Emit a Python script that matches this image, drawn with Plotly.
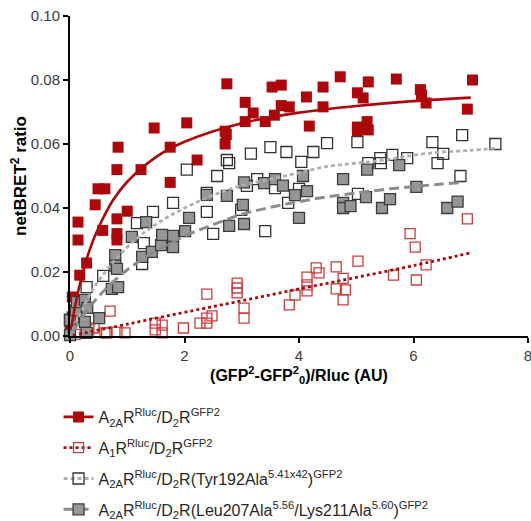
import plotly.graph_objects as go

# ---- data ----
# A2AR-Rluc / D2R-GFP2 (filled dark red squares)
a2a_x = [0.00, 0.04, 0.17, 0.29, 0.14, 0.14, 0.44, 0.49, 0.61, 0.57, 0.82, 0.82, 0.82, 1.00,
         0.84, 0.82, 1.24, 1.47, 1.75, 1.75, 2.04, 2.22, 2.74, 2.71, 2.73, 2.71, 3.06, 3.06,
         3.20, 3.53, 3.69, 3.41, 3.57, 3.69, 3.83, 4.13, 4.42, 4.72, 4.42, 4.18, 5.02, 5.12,
         5.21, 5.02, 5.02, 5.19, 5.21, 5.70, 6.12, 6.14, 6.22, 7.03, 6.94]
a2a_y = [0.0025, 0.0122, 0.019, 0.0228, 0.0356, 0.030, 0.041, 0.046, 0.046, 0.033, 0.0366, 0.032, 0.030, 0.039,
         0.059, 0.052, 0.052, 0.065, 0.059, 0.048, 0.0666, 0.055, 0.0788, 0.064, 0.063, 0.060, 0.073, 0.067,
         0.0697, 0.0778, 0.0784, 0.067, 0.069, 0.072, 0.0716, 0.0747, 0.0778, 0.081, 0.0716, 0.0656, 0.076, 0.0744,
         0.0794, 0.0653, 0.064, 0.067, 0.0644, 0.0803, 0.077, 0.0753, 0.0728, 0.080, 0.0709]
a2a_fit_x = [0.02, 0.1, 0.2, 0.35, 0.5, 0.75, 1.0, 1.5, 2.0, 3.0, 4.0, 5.0, 6.0, 7.0]
a2a_fit_y = [0.0023, 0.0103, 0.0182, 0.0273, 0.0339, 0.0424, 0.0482, 0.0559, 0.0607, 0.0665, 0.0698, 0.0719, 0.0734, 0.0745]

# A1R-Rluc / D2R-GFP2 (open red squares)
a1_x = [0.09, 0.30, 0.33, 0.42, 0.61, 0.64, 0.70, 0.82, 0.96, 1.49, 1.49, 1.61, 1.61, 1.98, 2.27, 2.39,
        2.39, 2.48, 2.39, 2.92, 2.92, 2.92, 3.04, 3.04, 3.83, 3.93, 4.14, 4.14, 4.14, 4.30, 4.35, 4.65,
        4.65, 4.77, 4.77, 4.81, 5.03, 5.65, 5.94, 6.03, 6.05, 6.22, 6.94]
a1_y = [0.0005, 0.001, 0.0019, 0.0025, 0.001, 0.001, 0.0078, 0.0012, 0.001, 0.004, 0.0019, 0.0034, 0.001, 0.0025, 0.004, 0.004,
        0.0056, 0.0063, 0.0131, 0.0165, 0.015, 0.0135, 0.0087, 0.0056, 0.0097, 0.0128, 0.0141, 0.016, 0.0184, 0.0213, 0.0197, 0.0147,
        0.0216, 0.018, 0.0113, 0.0144, 0.0234, 0.019, 0.032, 0.0278, 0.0175, 0.0222, 0.0366]
a1_fit_x = [0.05, 1.0, 2.0, 3.0, 4.0, 5.0, 6.0, 7.0]
a1_fit_y = [0.0002, 0.0037, 0.0074, 0.0110, 0.0147, 0.0183, 0.0220, 0.0260]

# A2AR-Rluc / D2R(Tyr192Ala)-GFP2 (open black squares)
tyr_x = [0.00, 0.05, 0.29, 0.22, 0.58, 1.26, 1.29, 1.17, 1.45, 1.80, 2.04, 2.39, 2.39, 2.50, 2.57, 2.74,
         2.78, 2.99, 3.09, 3.16, 3.27, 3.41, 3.50, 3.58, 3.78, 3.81, 4.00, 4.04, 4.25, 4.49, 5.02, 5.03,
         5.21, 5.42, 5.43, 5.63, 5.89, 6.33, 6.42, 6.52, 6.82, 6.85, 7.43]
tyr_y = [0.005, 0.0058, 0.0153, 0.011, 0.0188, 0.0225, 0.029, 0.0353, 0.0388, 0.0416, 0.052, 0.0447, 0.0388, 0.0319, 0.050, 0.055,
         0.054, 0.0394, 0.0469, 0.057, 0.049, 0.0328, 0.059, 0.0462, 0.0575, 0.0416, 0.046, 0.0544, 0.0575, 0.0603, 0.0606, 0.0444,
         0.054, 0.0556, 0.054, 0.0566, 0.0556, 0.0606, 0.054, 0.0569, 0.050, 0.0628, 0.060]
tyr_fit_x = [0.05, 0.4, 0.8, 1.2, 1.6, 2.0, 2.5, 3.0, 3.5, 4.0, 4.5, 5.0, 5.5, 6.0, 6.5, 7.0, 7.43]
tyr_fit_y = [0.002, 0.0145, 0.024, 0.031, 0.036, 0.040, 0.044, 0.047, 0.049, 0.051, 0.053, 0.054, 0.055, 0.0565, 0.0575, 0.058, 0.0587]

# A2AR-Rluc / D2R(Leu207Ala/Lys211Ala)-GFP2 (filled grey squares)
leu_x = [0.00, 0.00, 0.10, 0.12, 0.26, 0.30, 0.26, 0.29, 0.51, 0.73, 0.84, 0.79, 0.79, 0.82, 1.08, 1.26,
         1.33, 1.43, 1.59, 1.61, 1.80, 1.80, 2.01, 2.08, 2.39, 2.74, 2.78, 3.02, 3.04, 3.04, 3.39, 3.58,
         3.72, 3.93, 4.00, 4.07, 4.14, 4.77, 4.77, 4.77, 4.90, 5.17, 5.19, 5.45, 5.59, 5.75, 6.05, 6.59, 6.77]
leu_y = [0.0003, 0.005, 0.008, 0.0106, 0.0113, 0.0088, 0.0044, 0.001, 0.0056, 0.0147, 0.0153, 0.0253, 0.022, 0.021, 0.031, 0.0247,
         0.0356, 0.0263, 0.0284, 0.0316, 0.0313, 0.0278, 0.0328, 0.0369, 0.0441, 0.0438, 0.0344, 0.041, 0.035, 0.048, 0.0478, 0.049,
         0.047, 0.044, 0.0369, 0.050, 0.0453, 0.049, 0.0416, 0.040, 0.0406, 0.0434, 0.052, 0.040, 0.0428, 0.0534, 0.0466, 0.040, 0.042]
leu_fit_x = [0.05, 0.4, 0.8, 1.2, 1.6, 2.0, 2.5, 3.0, 3.5, 4.0, 4.5, 5.0, 5.5, 6.0, 6.5, 6.8]
leu_fit_y = [0.0015, 0.0103, 0.0177, 0.0233, 0.0276, 0.0312, 0.0348, 0.0380, 0.0402, 0.0420, 0.0435, 0.0447, 0.0458, 0.0467, 0.0475, 0.0479]

x_ticks = [0, 2, 4, 6, 8]
y_ticks = [0.00, 0.02, 0.04, 0.06, 0.08, 0.10]
y_tick_labels = ["0.00", "0.02", "0.04", "0.06", "0.08", "0.10"]

names = [
    "A<sub>2A</sub>R<sup>Rluc</sup>/D<sub>2</sub>R<sup>GFP2</sup>",
    "A<sub>1</sub>R<sup>Rluc</sup>/D<sub>2</sub>R<sup>GFP2</sup>",
    "A<sub>2A</sub>R<sup>Rluc</sup>/D<sub>2</sub>R(Tyr192Ala<sup>5.41x42</sup>)<sup>GFP2</sup>",
    "A<sub>2A</sub>R<sup>Rluc</sup>/D<sub>2</sub>R(Leu207Ala<sup>5.56</sup>/Lys211Ala<sup>5.60</sup>)<sup>GFP2</sup>",
]

RED = "rgb(172,8,12)"
RED_OPEN = "rgb(205,60,60)"
GREY_FILL = "rgb(150,150,150)"
GREY_EDGE = "rgb(60,60,60)"
LIGHT_LINE = "rgb(175,175,175)"
DASH_LINE = "rgb(140,140,140)"

series = [
    dict(x=a2a_x, y=a2a_y, fx=a2a_fit_x, fy=a2a_fit_y,
         marker=dict(symbol="square", size=11, color=RED, line=dict(width=0)),
         line=dict(color=RED, width=2.6, dash="solid")),
    dict(x=a1_x, y=a1_y, fx=a1_fit_x, fy=a1_fit_y,
         marker=dict(symbol="square-open", size=10, color=RED_OPEN, line=dict(width=1.3)),
         line=dict(color=RED, width=2.8, dash="3px,3px")),
    dict(x=tyr_x, y=tyr_y, fx=tyr_fit_x, fy=tyr_fit_y,
         marker=dict(symbol="square-open", size=11, color="rgb(50,50,50)", line=dict(width=1.3)),
         line=dict(color=LIGHT_LINE, width=2.8, dash="4px,3px")),
    dict(x=leu_x, y=leu_y, fx=leu_fit_x, fy=leu_fit_y,
         marker=dict(symbol="square", size=11, color=GREY_FILL, line=dict(width=1.3, color=GREY_EDGE)),
         line=dict(color=DASH_LINE, width=3, dash="10px,5px")),
]

fig = go.Figure()
for s in series:
    fig.add_trace(go.Scatter(x=s["x"], y=s["y"], mode="markers", marker=s["marker"],
                             showlegend=False, cliponaxis=False, hoverinfo="skip"))
for s in series:
    fig.add_trace(go.Scatter(x=s["fx"], y=s["fy"], mode="lines", line=dict(shape="spline", **s["line"]),
                             showlegend=False, cliponaxis=False, hoverinfo="skip"))
for i, s in enumerate(series):
    lm = dict(s["marker"])
    fig.add_trace(go.Scatter(x=[None], y=[None], mode="lines+markers", name=names[i],
                             marker=lm, line=s["line"], legendgroup="g%d" % i))

fig.update_layout(
    width=531, height=521,
    margin=dict(l=70, r=3, t=16, b=185, autoexpand=False),
    paper_bgcolor="white", plot_bgcolor="white",
    font=dict(family="Arial, Liberation Sans, sans-serif", color="rgb(60,60,60)"),
    showlegend=True,
    legend=dict(x=-0.025, xanchor="left", y=-0.2, yanchor="top",
                font=dict(size=16, color="rgb(40,40,40)"),
                tracegroupgap=7, bgcolor="rgba(0,0,0,0)"),
)
fig.update_xaxes(range=[0, 8], tickvals=x_ticks, ticktext=[str(v) for v in x_ticks],
                 showline=True, linecolor="black", linewidth=2, ticks="outside", ticklen=5,
                 tickwidth=2, tickcolor="black", showgrid=False, zeroline=False,
                 ticklabeloverflow="allow",
                 tickfont=dict(size=15, color="rgb(60,60,60)"),
                 title=dict(text="<b>(GFP<sup>2</sup>-GFP<sup>2</sup><sub>0</sub>)/Rluc (AU)</b>",
                            font=dict(size=16, color="black"), standoff=5))
fig.update_yaxes(range=[0, 0.10], tickvals=y_ticks, ticktext=y_tick_labels,
                 showline=True, linecolor="black", linewidth=2, ticks="outside", ticklen=5,
                 tickwidth=2, tickcolor="black", showgrid=False, zeroline=False,
                 tickfont=dict(size=15, color="rgb(60,60,60)"),
                 title=dict(text="<b>netBRET<sup>2</sup> ratio</b>",
                            font=dict(size=17, color="black"), standoff=0))

fig.write_html("out.html", config={"displayModeBar": False},
               post_script="document.body.style.margin='0';document.body.style.overflow='hidden';")
